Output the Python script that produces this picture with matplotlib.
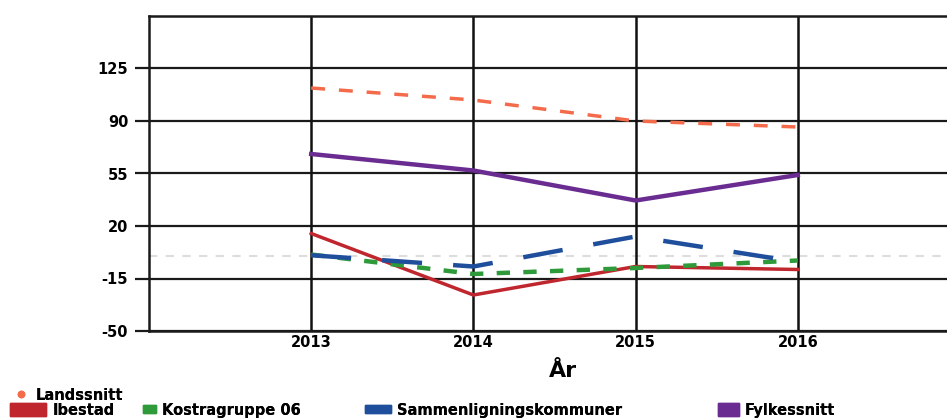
import matplotlib.pyplot as plt
from matplotlib.lines import Line2D
from matplotlib.patches import Patch

plt.rcParams['axes.unicode_minus'] = False

# verdier lest av bildet
aar = [2013, 2014, 2015, 2016]
landssnitt = [112, 104, 90, 86]
fylkessnitt = [68, 57, 37, 54]
ibestad = [15, -26, -7, -9]
kostragruppe = [1, -12, -8, -3]
sammenligning = [0.5, -7, 13, -4]
yticks = [-50, -15, 20, 55, 90, 125]

fig = plt.figure(figsize=(9.47, 4.19), dpi=100)
ax = fig.add_axes([149/947, 88/419, 811/947, 315/419])

ax.axhline(0, color='#dddddd', lw=1.5, ls=(0, (4, 4)), zorder=1)
for y in yticks:
    ax.axhline(y, color='#1a1a1a', lw=1.6, zorder=2)
for x in aar:
    ax.axvline(x, color='#111111', lw=1.8, zorder=2)

ax.plot(aar, landssnitt, color='#f36b4b', lw=2.5, ls=(0, (4, 4)), zorder=3)
ax.plot(aar, fylkessnitt, color='#6a2c91', lw=3.2, zorder=3)
ax.plot(aar, ibestad, color='#c0262d', lw=2.5, zorder=3)
ax.plot(aar, kostragruppe, color='#2e9a3a', lw=3.2, ls=(0, (3, 3)), zorder=3)
ax.plot(aar, sammenligning, color='#1f4e9c', lw=3.2, ls=(0, (9, 7)), zorder=4)

ax.set_xlim(2012, 2017)
ax.set_ylim(-50, 160)
ax.set_yticks(yticks)
ax.set_xticks(aar)
ax.tick_params(axis='y', length=10, width=1.6, color='#1a1a1a', pad=5, labelsize=10.5)
ax.tick_params(axis='x', length=0, pad=3, labelsize=10.5)
for lab in ax.get_xticklabels() + ax.get_yticklabels():
    lab.set_fontweight('bold')
for s in ['left', 'top', 'bottom']:
    ax.spines[s].set_color('#1a1a1a')
    ax.spines[s].set_linewidth(1.8)
ax.spines['right'].set_visible(False)
ax.set_xlabel('År', fontsize=16, fontweight='bold', labelpad=4)
ax.xaxis.set_label_coords((563 - 149) / 811, -0.095)

prop = {'size': 10.5, 'weight': 'bold'}
h1 = [Line2D([], [], color='#f36b4b', marker='o', ms=4.5, ls='none')]
fig.add_artist(fig.legend(h1, ['Landssnitt'], loc='center left',
                          bbox_to_anchor=(12 / 947, 1 - 395/419), frameon=False,
                          handlelength=1.2, handletextpad=0.4, borderpad=0,
                          borderaxespad=0, prop=prop))

# rad 2: navn, farge, handle-bredde, handle-hoyde, x-posisjon (px)
navn = ['Ibestad', 'Kostragruppe 06', 'Sammenligningskommuner', 'Fylkessnitt']
farger = ['#c0262d', '#2e9a3a', '#1f4e9c', '#6a2c91']
hl = [2.5, 0.9, 1.8, 1.45]
hh = [0.9, 0.45, 0.5, 1.0]
xpos = [10, 143, 365, 718]
for n, f, l, h, x in zip(navn, farger, hl, hh, xpos):
    fig.add_artist(fig.legend([Patch(color=f)], [n], loc='center left',
                              bbox_to_anchor=(x / 947, 1 - 410/419), frameon=False,
                              handlelength=l, handleheight=h, handletextpad=0.4,
                              borderpad=0, borderaxespad=0, prop=prop))

fig.savefig('out.png', dpi=100)
